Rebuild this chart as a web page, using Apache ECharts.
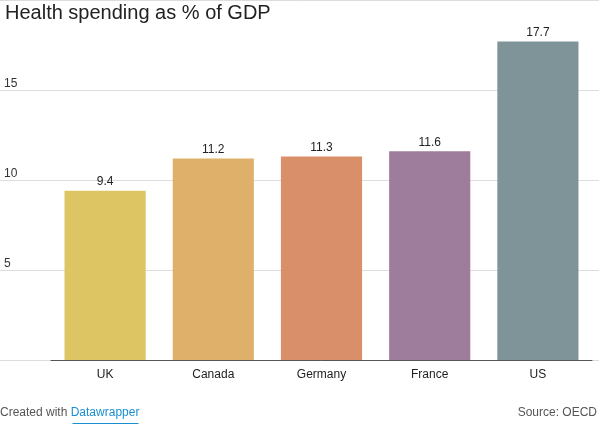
<!DOCTYPE html><html><head><meta charset="utf-8"><script src="https://cdn.jsdelivr.net/npm/echarts@6/dist/echarts.min.js"></script>
<style>html,body{margin:0;padding:0;background:#fff}#c{width:599px;height:424px}</style></head><body><div id="c"></div><script>
const categories=['UK','Canada','Germany','France','US'];
const values=[9.4,11.2,11.3,11.6,17.7];
const colors=['#dcc562','#deb06a','#d9906a','#9e7d9c','#7f9499'];
const yTicks=[5,10,15];
const ch=echarts.init(document.getElementById('c'));
ch.setOption({
animation:false,
title:{text:'Health spending as % of GDP',left:0,top:-2,textStyle:{fontFamily:'Liberation Sans',fontWeight:'normal',fontSize:20,color:'#222'}},
graphic:[
{type:'text',left:0,top:407,style:{text:'{a|Created with }{b|Datawrapper}',rich:{a:{fontFamily:'Liberation Sans',fontSize:12,fill:'#555'},b:{fontFamily:'Liberation Sans',fontSize:12,fill:'#1a8fd0',textDecoration:'underline'}}}},
{type:'line',left:70,top:421,shape:{x1:0,y1:0,x2:66,y2:0},style:{stroke:'#1a8fd0',lineWidth:1}},
{type:'text',right:2,top:407,style:{text:'Source: OECD',fontFamily:'Liberation Sans',fontSize:12,fill:'#555'}}
],
grid:[{left:0,right:0,top:0,bottom:64},{left:51,right:7,top:0,bottom:64}],
xAxis:[{gridIndex:0,type:'value',show:false,min:0,max:1},
{gridIndex:1,type:'category',data:categories,axisTick:{show:false},axisLine:{lineStyle:{color:'#555'}},axisLabel:{color:'#222',fontFamily:'Liberation Sans',fontSize:12,margin:9}}],
yAxis:[{gridIndex:0,type:'value',min:0,max:20,interval:5,axisLine:{show:false},axisTick:{show:false},
splitLine:{lineStyle:{color:'#ddd'}},axisLabel:{inside:true,verticalAlign:'bottom',margin:4,color:'#333',fontFamily:'Liberation Sans',fontSize:12,formatter:v=>yTicks.includes(v)?String(v):''}},
{gridIndex:1,type:'value',min:0,max:20,show:false}],
series:[{type:'bar',xAxisIndex:1,yAxisIndex:1,barWidth:'75%',data:values.map((v,i)=>({value:v,itemStyle:{color:colors[i]}})),
label:{show:true,position:'top',color:'#222',fontFamily:'Liberation Sans',fontSize:12,distance:3}}]
});
</script></body></html>
